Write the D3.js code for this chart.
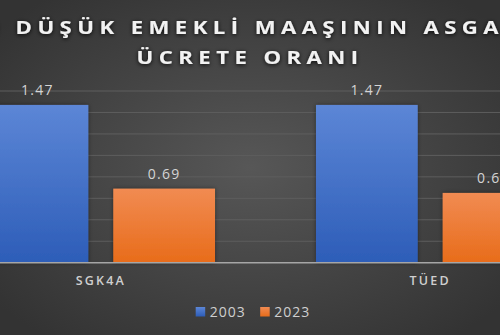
<!DOCTYPE html>
<html>
<head>
<meta charset="utf-8">
<script src="https://cdn.jsdelivr.net/npm/d3@7"></script>
<style>
  html, body { margin: 0; padding: 0; background: #3a3a3a; }
  svg { display: block; }
</style>
</head>
<body>
<div id="chart"></div>
<script>
const categories = ["SGK4A", "TÜED"];
const seriesNames = ["2003", "2023"];
const values2003 = [1.47, 1.47];
const values2023 = [0.69, 0.65];
const yTicks = [0, 0.2, 0.4, 0.6, 0.8, 1.0, 1.2, 1.4, 1.6];
const titleLines = ["EN DÜŞÜK EMEKLİ MAAŞININ ASGARİ", "ÜCRETE ORANI"];

const width = 500, height = 335;
const plotTop = 91, plotBottom = 262.7;
const colors = ["blue", "orange"];

const svg = d3.select("#chart").append("svg")
  .attr("width", width).attr("height", height);

const defs = svg.append("defs");
const bg = defs.append("radialGradient").attr("id", "bg")
  .attr("cx", "50%").attr("cy", "50%").attr("r", "65%");
bg.append("stop").attr("offset", "0%").attr("stop-color", "#575757");
bg.append("stop").attr("offset", "100%").attr("stop-color", "#333333");

const gBlue = defs.append("linearGradient").attr("id", "blue")
  .attr("x1", 0).attr("y1", 0).attr("x2", 0).attr("y2", 1);
gBlue.append("stop").attr("offset", "0%").attr("stop-color", "#5c86d6");
gBlue.append("stop").attr("offset", "100%").attr("stop-color", "#2d5db8");
const gOrange = defs.append("linearGradient").attr("id", "orange")
  .attr("x1", 0).attr("y1", 0).attr("x2", 0).attr("y2", 1);
gOrange.append("stop").attr("offset", "0%").attr("stop-color", "#f18b52");
gOrange.append("stop").attr("offset", "100%").attr("stop-color", "#e86c1a");

const shadow = defs.append("filter").attr("id", "shadow")
  .attr("x", "-20%").attr("y", "-20%").attr("width", "140%").attr("height", "140%");
shadow.append("feDropShadow").attr("dx", 0).attr("dy", 0).attr("stdDeviation", 2)
  .attr("flood-color", "#000").attr("flood-opacity", 0.45);

const glow = defs.append("filter").attr("id", "glow")
  .attr("x", "-10%").attr("y", "-30%").attr("width", "120%").attr("height", "160%");
glow.append("feDropShadow").attr("dx", 0).attr("dy", 1).attr("stdDeviation", 2)
  .attr("flood-color", "#000").attr("flood-opacity", 0.9);

svg.append("rect").attr("width", width).attr("height", height).attr("fill", "url(#bg)");

// scales
const x0 = d3.scaleBand().domain(categories)
  .range([-63.9, 594.9]).paddingInner(0.3066).paddingOuter(0.1533);
const x1 = d3.scaleBand().domain(seriesNames)
  .range([0, x0.bandwidth()]).paddingInner(0.197);
const y = d3.scaleLinear().domain([0, 1.6]).range([plotBottom, plotTop]);

// gridlines
svg.append("g").selectAll("line")
  .data(yTicks.filter(d => d > 0))
  .join("line")
  .attr("x1", 0).attr("x2", width)
  .attr("y1", d => y(d)).attr("y2", d => y(d))
  .attr("stroke", "#5e5e5e").attr("stroke-width", 1);

// bars
const rows = categories.map((c, i) => ({ cat: c, vals: [values2003[i], values2023[i]] }));
const groups = svg.append("g").selectAll("g")
  .data(rows).join("g")
  .attr("transform", d => `translate(${x0(d.cat)},0)`);

groups.selectAll("rect")
  .data(d => d.vals.map((v, j) => ({ s: seriesNames[j], v, j })))
  .join("rect")
  .attr("x", d => x1(d.s))
  .attr("y", d => y(d.v))
  .attr("width", x1.bandwidth())
  .attr("height", d => y(0) - y(d.v))
  .attr("fill", d => `url(#${colors[d.j]})`)
  .attr("filter", "url(#shadow)");

groups.selectAll("text")
  .data(d => d.vals.map((v, j) => ({ s: seriesNames[j], v })))
  .join("text")
  .attr("x", d => x1(d.s) + x1.bandwidth() / 2)
  .attr("y", d => y(d.v) - 10)
  .attr("text-anchor", "middle")
  .attr("font-family", "Open Sans, sans-serif")
  .attr("font-size", 14)
  .attr("letter-spacing", 1.3)
  .attr("fill", "#d4d4d4")
  .text(d => d3.format(".2f")(d.v));

// axis baseline
svg.append("line")
  .attr("x1", 0).attr("x2", width)
  .attr("y1", y(0)).attr("y2", y(0))
  .attr("stroke", "#a6a6a6").attr("stroke-width", 1.5);

// category labels
svg.append("g").selectAll("text")
  .data(categories).join("text")
  .attr("x", d => x0(d) + x0.bandwidth() / 2)
  .attr("y", 285)
  .attr("text-anchor", "middle")
  .attr("font-family", "Open Sans, sans-serif")
  .attr("font-size", 12.5)
  .attr("font-weight", 600)
  .attr("letter-spacing", 2.2)
  .attr("fill", "#cfcfcf")
  .text(d => d);

// title (wide letters, stretched horizontally)
svg.append("g").attr("filter", "url(#glow)")
  .append("g").attr("transform", "translate(250,0) scale(1.2,1)")
  .selectAll("text")
  .data(titleLines).join("text")
  .attr("x", 0)
  .attr("y", (d, i) => 34.5 + i * 29.5)
  .attr("text-anchor", "middle")
  .attr("font-family", "Open Sans, sans-serif")
  .attr("font-size", 18.5)
  .attr("font-weight", 700)
  .attr("letter-spacing", 4.5)
  .attr("fill", "#f2f2f2")
  .text(d => d);

// legend
const legend = svg.append("g").selectAll("g")
  .data(seriesNames).join("g")
  .attr("transform", (d, i) => `translate(${195.7 + i * 64.5},307)`);
legend.append("rect")
  .attr("width", 9.5).attr("height", 9.5)
  .attr("fill", (d, i) => `url(#${colors[i]})`);
legend.append("text")
  .attr("x", 14).attr("y", 10)
  .attr("font-family", "Open Sans, sans-serif")
  .attr("font-size", 14)
  .attr("letter-spacing", 1)
  .attr("fill", "#cfcfcf")
  .text(d => d);
</script>
</body>
</html>
